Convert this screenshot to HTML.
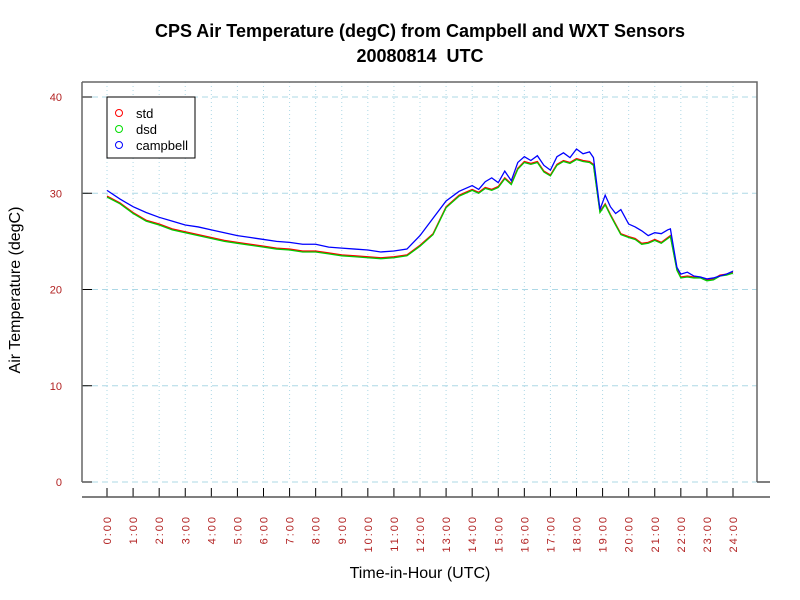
<!DOCTYPE html>
<html><head><meta charset="utf-8"><style>body{margin:0;background:#fff}svg{display:block;font-family:"Liberation Sans",sans-serif}</style></head>
<body>
<svg id="chart" width="800" height="600" viewBox="0 0 800 600">
<text x="420" y="37" text-anchor="middle" font-size="18" font-weight="bold">CPS Air Temperature (degC) from Campbell and WXT Sensors</text>
<text x="420" y="62" text-anchor="middle" font-size="18" font-weight="bold">20080814&#160;&#160;UTC</text>
<text transform="translate(20,290) rotate(-90)" text-anchor="middle" font-size="16">Air Temperature (degC)</text>
<text x="420" y="578" text-anchor="middle" font-size="16">Time-in-Hour (UTC)</text>
<g id="grid"></g><g id="axes"></g><g id="series"></g>
<g>
<rect x="107" y="97" width="88" height="61" fill="#fff" stroke="#000"/>
<circle cx="119" cy="113" r="3.5" fill="none" stroke="#f00"/><text x="136" y="118" font-size="13">std</text>
<circle cx="119" cy="129" r="3.5" fill="none" stroke="#0d0"/><text x="136" y="134" font-size="13">dsd</text>
<circle cx="119" cy="145" r="3.5" fill="none" stroke="#00f"/><text x="136" y="150" font-size="13">campbell</text>
</g>
</svg>
<script>
const times=[0,0.5,1,1.5,2,2.5,3,3.5,4,4.5,5,5.5,6,6.5,7,7.5,8,8.5,9,9.5,10,10.5,11,11.5,12,12.5,13,13.5,14,14.25,14.5,14.75,15,15.25,15.5,15.75,16,16.25,16.5,16.75,17,17.25,17.5,17.75,18,18.25,18.5,18.65,18.9,19.1,19.3,19.5,19.7,20,20.25,20.5,20.75,21,21.25,21.5,21.6,21.85,22,22.25,22.5,22.75,23,23.25,23.5,23.75,24];
const campbell=[30.3,29.4,28.6,28.0,27.5,27.1,26.7,26.5,26.2,25.9,25.6,25.4,25.2,25.0,24.9,24.7,24.7,24.4,24.3,24.2,24.1,23.9,24.0,24.2,25.6,27.4,29.2,30.2,30.8,30.4,31.2,31.6,31.1,32.3,31.3,33.2,33.8,33.4,33.9,32.9,32.4,33.8,34.2,33.7,34.6,34.1,34.3,33.7,28.3,29.8,28.6,27.9,28.3,26.8,26.5,26.1,25.6,25.9,25.8,26.2,26.3,22.3,21.6,21.8,21.4,21.3,21.1,21.2,21.4,21.6,21.9];
const stdVals=[29.7,29.0,28.0,27.2,26.8,26.3,26.0,25.7,25.4,25.1,24.9,24.7,24.5,24.3,24.2,24.0,24.0,23.8,23.6,23.5,23.4,23.3,23.4,23.6,24.6,25.8,28.6,29.8,30.4,30.1,30.6,30.4,30.7,31.6,31.0,32.6,33.3,33.1,33.3,32.3,31.9,33.0,33.4,33.2,33.6,33.4,33.3,33.0,28.1,28.9,27.8,26.8,25.8,25.5,25.3,24.8,24.9,25.2,24.9,25.4,25.6,22.1,21.3,21.4,21.3,21.3,21.0,21.1,21.5,21.6,21.8];
const dsdVals=[29.6,28.9,27.9,27.1,26.7,26.2,25.9,25.6,25.3,25.0,24.8,24.6,24.4,24.2,24.1,23.9,23.9,23.7,23.5,23.4,23.3,23.2,23.3,23.5,24.5,25.7,28.5,29.7,30.3,30.0,30.5,30.3,30.6,31.5,30.9,32.5,33.2,33.0,33.2,32.2,31.8,32.9,33.3,33.1,33.5,33.3,33.2,32.9,28.0,28.8,27.7,26.7,25.7,25.4,25.2,24.7,24.8,25.1,24.8,25.3,25.5,22.0,21.2,21.3,21.2,21.2,20.9,21.0,21.4,21.5,21.7];
const yTicks=[0,10,20,30,40];
const xTicks=[0,1,2,3,4,5,6,7,8,9,10,11,12,13,14,15,16,17,18,19,20,21,22,23,24];
const NS="http://www.w3.org/2000/svg";
const xs=h=>107+h*(733-107)/24;
const ys=v=>482-v*9.625;
function mk(tag,attrs,parent,txt){const e=document.createElementNS(NS,tag);for(const k in attrs)e.setAttribute(k,attrs[k]);if(txt!==undefined)e.textContent=txt;parent.appendChild(e);return e;}
const grid=document.getElementById('grid'),axes=document.getElementById('axes'),ser=document.getElementById('series');
xTicks.forEach(h=>{
 const l=mk('line',{x1:xs(h),x2:xs(h),y1:82,y2:482,stroke:'#add8e6','stroke-dasharray':'1,3'},grid);
 
 
 const t=mk('line',{x1:xs(h),x2:xs(h),y1:488,y2:497,stroke:'#000'},axes);
 
 
 const tx=mk('text',{transform:`translate(${xs(h)+4},515) rotate(-90)`,'text-anchor':'end','font-size':'11','letter-spacing':'2',fill:'#b22222'},axes,h+':00');
 
 
});
yTicks.forEach(v=>{
 const l=mk('line',{x1:82,x2:757,y1:ys(v),y2:ys(v),stroke:'#add8e6','stroke-dasharray':'6,4'},grid);
 
 
 const tk=mk('line',{x1:82,x2:92,y1:ys(v),y2:ys(v),stroke:'#000'},axes);
 
 
 const tx=mk('text',{x:62,y:ys(v)+4,'text-anchor':'end','font-size':'11',fill:'#b22222'},axes,v);
 
 
});
const frame=mk('path',{d:'M82,82 H757 V482 M82,82 V482',fill:'none',stroke:'#666','stroke-width':'1.5'},axes);


const xl=mk('path',{d:'M82,497 H770 M757,482 H770',stroke:'#555','stroke-width':'1.5',fill:'none'},axes);


[[stdVals,'#f00','std-line'],[dsdVals,'#0c0','dsd-line'],[campbell,'#00f','campbell-line']].forEach(([vals,c,n])=>{
 const p=mk('polyline',{points:times.map((t,i)=>xs(t)+','+ys(vals[i])).join(' '),fill:'none',stroke:c,'stroke-width':'1.3'},ser);
 
 
});
</script>
</body></html>
